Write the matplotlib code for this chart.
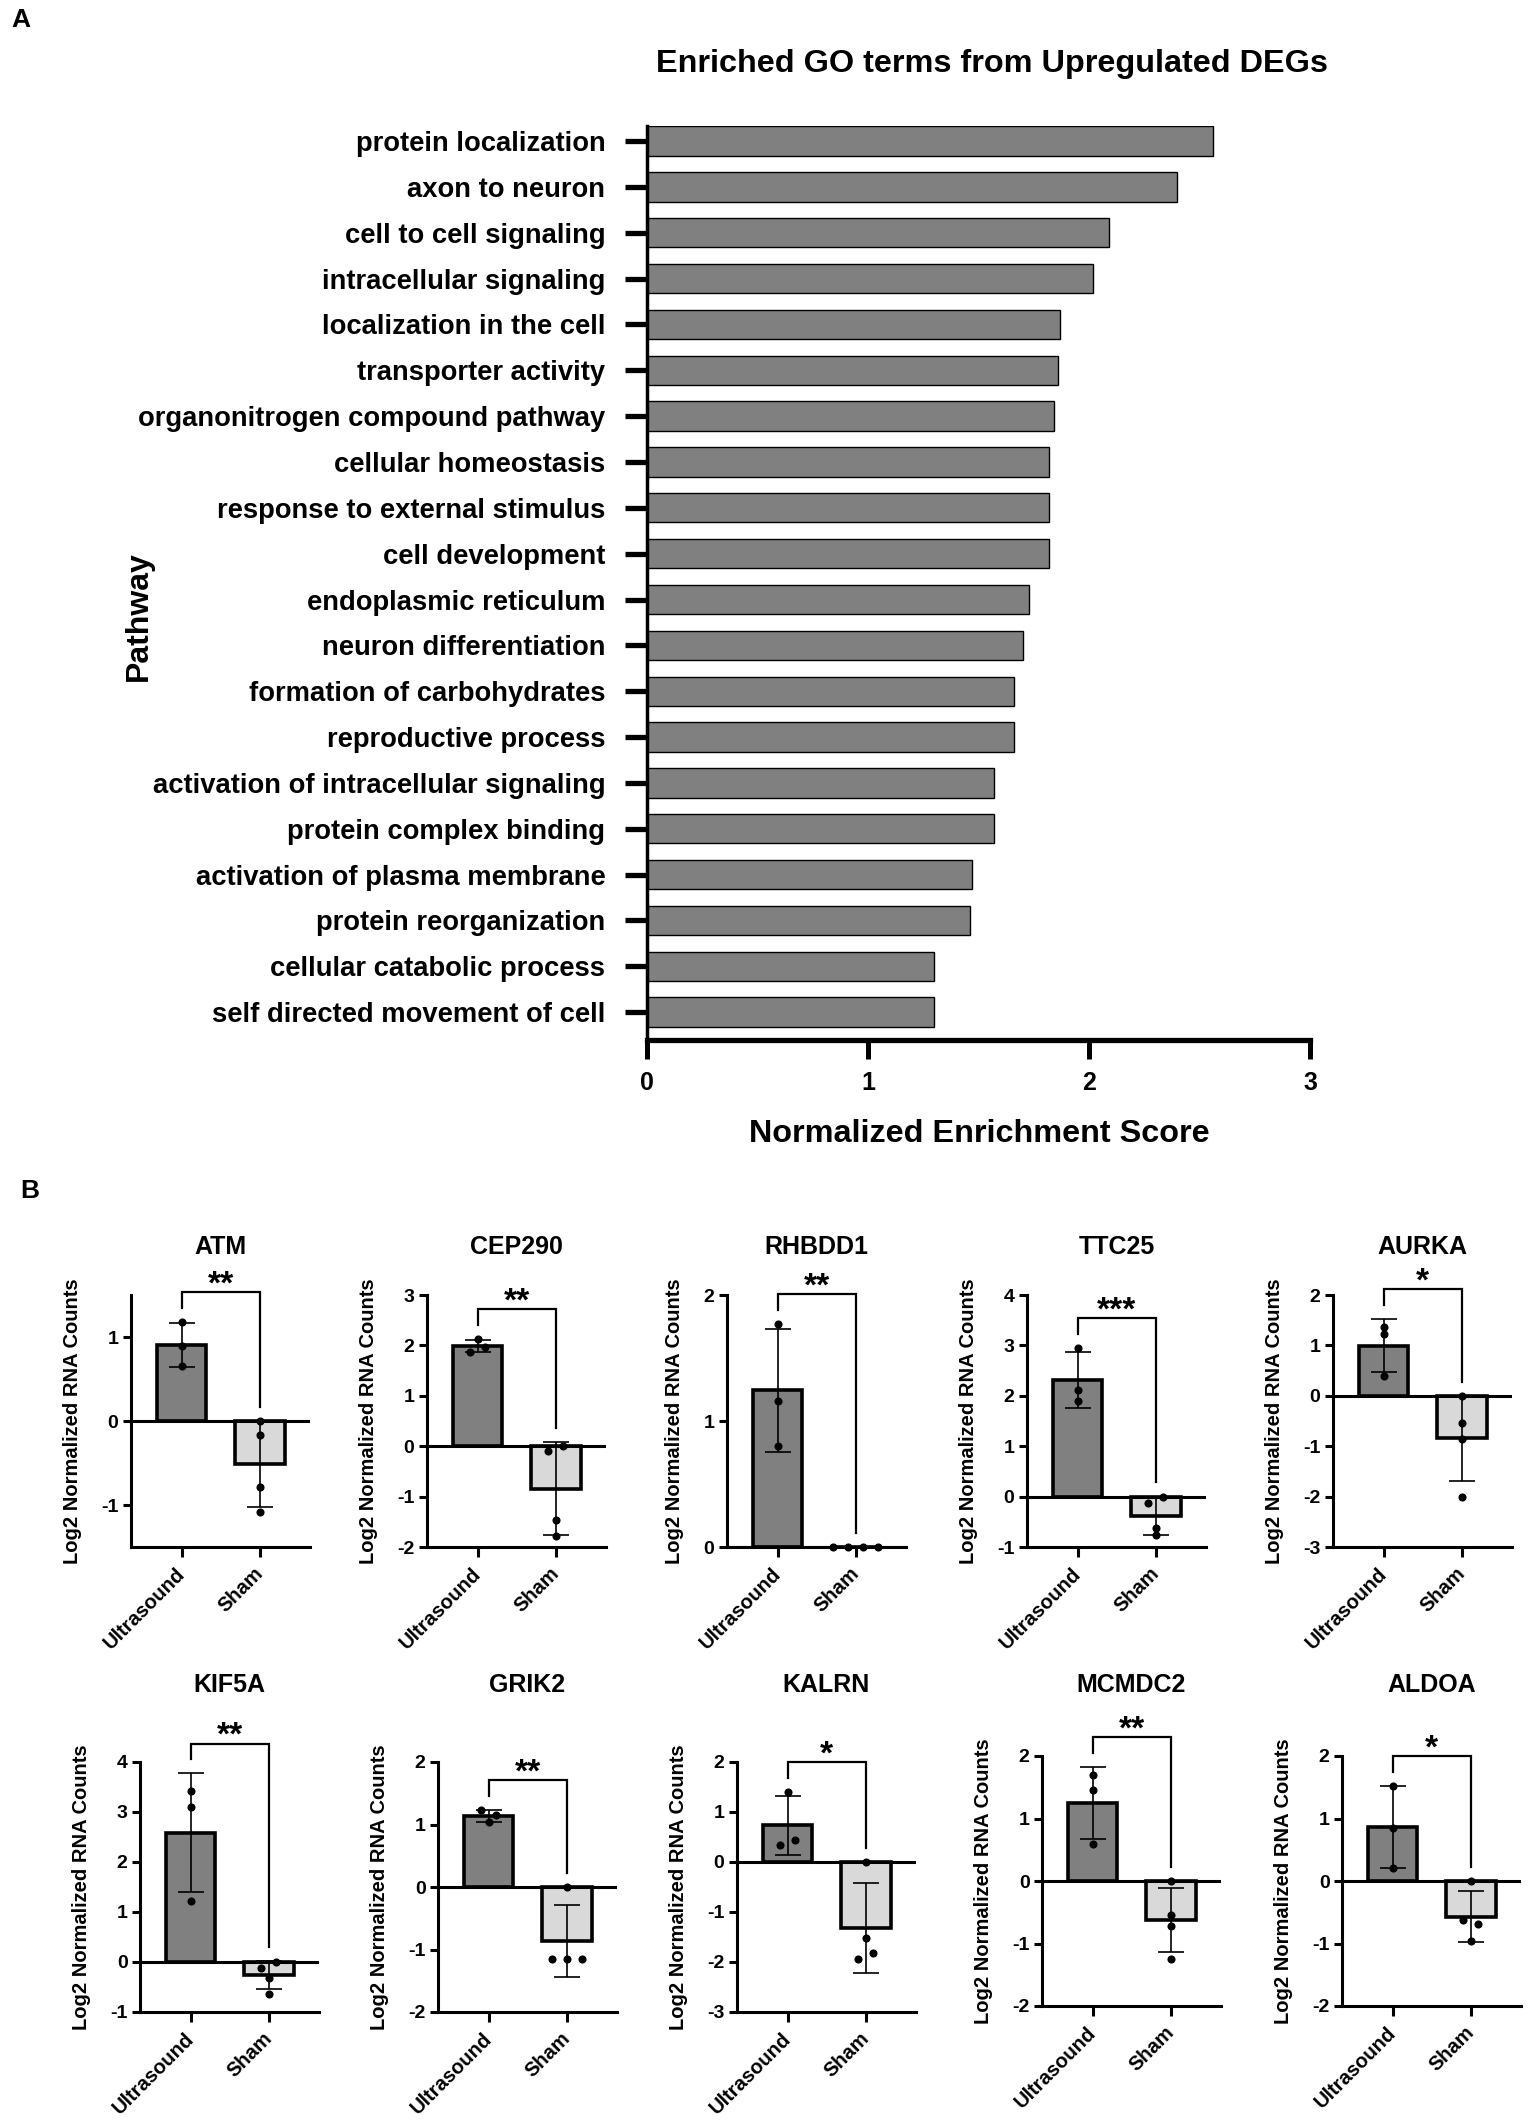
import numpy as np
import matplotlib
matplotlib.use("Agg")
import matplotlib.pyplot as plt

plt.rcParams['font.family'] = ['Liberation Sans', 'DejaVu Sans']
plt.rcParams['font.weight'] = 'bold'
plt.rcParams['axes.labelweight'] = 'bold'

# ---------------- data ----------------
go_terms = ["protein localization", "axon to neuron", "cell to cell signaling",
            "intracellular signaling", "localization in the cell", "transporter activity",
            "organonitrogen compound pathway", "cellular homeostasis",
            "response to external stimulus", "cell development", "endoplasmic reticulum",
            "neuron differentiation", "formation of carbohydrates", "reproductive process",
            "activation of intracellular signaling", "protein complex binding",
            "activation of plasma membrane", "protein reorganization",
            "cellular catabolic process", "self directed movement of cell"]
nes = [2.56, 2.40, 2.09, 2.02, 1.87, 1.86, 1.84, 1.82, 1.82, 1.82,
       1.73, 1.70, 1.66, 1.66, 1.57, 1.57, 1.47, 1.46, 1.30, 1.30]
nes_ticks = [0, 1, 2, 3]

genes = ["ATM", "CEP290", "RHBDD1", "TTC25", "AURKA",
         "KIF5A", "GRIK2", "KALRN", "MCMDC2", "ALDOA"]
groups = ["Ultrasound", "Sham"]
ultrasound_pts = [[1.18, 0.89, 0.65], [1.97, 2.12, 1.87], [1.77, 1.16, 0.80],
                  [2.95, 2.11, 1.90], [1.37, 1.22, 0.40], [3.43, 3.10, 1.23],
                  [1.16, 1.23, 1.04], [1.41, 0.45, 0.34], [1.69, 1.46, 0.60],
                  [1.52, 0.85, 0.21]]
sham_pts = [[0.0, -0.17, -0.79, -1.08], [0.0, -0.10, -1.47, -1.79], [0.0, 0.0, 0.0, 0.0],
            [0.0, -0.12, -0.63, -0.77], [0.0, -0.53, -0.85, -2.00], [0.0, -0.11, -0.31, -0.63],
            [0.0, -1.15, -1.15, -1.15], [0.0, -1.52, -1.82, -1.93], [0.0, -0.55, -0.72, -1.24],
            [0.0, -0.69, -0.63, -0.96]]
significance = ["**", "**", "**", "***", "*", "**", "**", "*", "**", "*"]
y_low = [-1.5, -2, 0, -1, -3, -1, -2, -3, -2, -2]
y_high = [1.5, 3, 2, 4, 2, 4, 2, 2, 2, 2]

# ---------------- figure ----------------
W, H, DPI = 1535, 2122, 100
fig = plt.figure(figsize=(W / DPI, H / DPI), dpi=DPI)
fig.patch.set_facecolor('white')


def px_axes(left, top, width, height):
    return fig.add_axes([left / W, 1 - (top + height) / H, width / W, height / H])


# ---------------- Panel A ----------------
fig.text(11 / W, 1 - 20 / H, "A", fontsize=19, weight='bold', ha='left', va='center')
axA = px_axes(647, 126, 663, 914)
ypos = np.arange(len(go_terms))
axA.barh(ypos, nes, height=0.64, color='#808080', edgecolor='black', linewidth=1.0, zorder=2)
axA.set_xlim(0, 3)
axA.set_ylim(19.61, -0.33)
axA.set_xticks(nes_ticks)
axA.set_xticklabels([str(t) for t in nes_ticks])
axA.set_yticks(ypos)
axA.set_yticklabels(go_terms)
for s in ['top', 'right']:
    axA.spines[s].set_visible(False)
axA.spines['left'].set_linewidth(2.5)
axA.spines['bottom'].set_linewidth(3.8)
axA.tick_params(axis='y', length=16, width=3.8, pad=14, labelsize=19.75)
axA.tick_params(axis='x', length=14, width=3.6, pad=8, labelsize=18)
fig.text(992 / W, 1 - 64 / H, "Enriched GO terms from Upregulated DEGs",
         fontsize=23.3, weight='bold', ha='center', va='center')
fig.text(979 / W, 1 - 1134 / H, "Normalized Enrichment Score",
         fontsize=23.3, weight='bold', ha='center', va='center')
fig.text(139 / W, 1 - 616 / H, "Pathway", fontsize=23, weight='bold',
         ha='center', va='center', rotation=90)

# ---------------- Panel B ----------------
fig.text(20 / W, 1 - 1191 / H, "B", fontsize=19, weight='bold', ha='left', va='center')

lefts = [131, 427, 727, 1027, 1333, 140, 438, 737, 1042, 1342]
tops = [1295] * 5 + [1762, 1762, 1762, 1756, 1756]
heights = [252] * 5 + [250, 250, 250, 250, 250]
title_y = [1247] * 5 + [1685] * 5
AX_W = 179
XLIM = (-0.65, 1.64)
PX_PER_CAT = AX_W / (XLIM[1] - XLIM[0])


def swarm_offsets(vals, px_per_unit, d=6.8, step_px=15):
    ypx = np.asarray(vals, float) * px_per_unit
    n = len(ypx)
    slots = [0] * n
    for i in range(n):
        for k in [0, -1, 1, -2, 2, -3, 3]:
            if all(not (slots[j] == k and abs(ypx[i] - ypx[j]) < d) for j in range(i)):
                slots[i] = k
                break
    parent = list(range(n))

    def find(a):
        while parent[a] != a:
            a = parent[a]
        return a
    for i in range(n):
        for j in range(i + 1, n):
            if abs(ypx[i] - ypx[j]) < d:
                parent[find(i)] = find(j)
    offs = np.array(slots, float)
    comps = {}
    for i in range(n):
        comps.setdefault(find(i), []).append(i)
    for idx in comps.values():
        offs[idx] -= offs[idx].mean()
    return offs * step_px / PX_PER_CAT


for g in range(len(genes)):
    ax = px_axes(lefts[g], tops[g], AX_W, heights[g])
    lo, hi = y_low[g], y_high[g]
    ax.set_xlim(*XLIM)
    ax.set_ylim(lo, hi)
    px_per_unit = heights[g] / (hi - lo)
    data = [ultrasound_pts[g], sham_pts[g]]
    colors = ['#808080', '#d9d9d9']
    caps_top = []
    for k in range(2):
        v = np.asarray(data[k], float)
        m = v.mean()
        sd = v.std(ddof=1)
        ax.bar(k, m, width=0.63, color=colors[k], edgecolor='black', linewidth=2.6, zorder=2)
        ax.errorbar(k, m, yerr=sd, fmt='none', ecolor='black', elinewidth=1.2,
                    capsize=9.6, capthick=1.2, zorder=3)
        offs = swarm_offsets(v, px_per_unit)
        ax.scatter(k + offs, v, s=34, color='black', zorder=4, clip_on=False, linewidths=0)
        caps_top.append(max(v.max(), m + sd))
    ax.axhline(0, color='black', linewidth=2.2, zorder=5)
    rng = hi - lo
    left_end = caps_top[0] + 0.056 * rng
    right_end = max(caps_top[1], 0) + 0.056 * rng
    top = left_end + 0.063 * rng
    ax.plot([0, 0, 1, 1], [left_end, top, top, right_end], color='black',
            linewidth=1.6, clip_on=False, zorder=6, solid_joinstyle='miter')
    ax.annotate(significance[g], xy=(0.5, top), xytext=(0, -1), textcoords='offset points',
                ha='center', va='baseline', fontsize=24, weight='bold', annotation_clip=False)
    ax.set_yticks(np.arange(lo if float(lo).is_integer() else np.ceil(lo), hi + 0.01, 1))
    ax.set_yticklabels([str(int(t)) for t in ax.get_yticks()])
    ax.set_xticks([0, 1])
    ax.set_xticklabels(groups)
    for lab in ax.get_xticklabels():
        lab.set_rotation(45)
        lab.set_ha('right')
        lab.set_va('center')
        lab.set_rotation_mode('anchor')
    for s in ['top', 'right']:
        ax.spines[s].set_visible(False)
    ax.spines['left'].set_linewidth(2.2)
    ax.spines['bottom'].set_linewidth(2.2)
    ax.tick_params(axis='y', length=6, width=2.2, pad=3, labelsize=14)
    ax.tick_params(axis='x', length=7, width=2.2, pad=10, labelsize=14.5)
    ax.set_ylabel("Log2 Normalized RNA Counts", fontsize=14.5, weight='bold', labelpad=14)
    ax.patch.set_alpha(0)
    fig.text((lefts[g] + AX_W / 2) / W, 1 - title_y[g] / H, genes[g], fontsize=18,
             weight='bold', ha='center', va='center')

fig.savefig("out.png", dpi=DPI, facecolor='white')
